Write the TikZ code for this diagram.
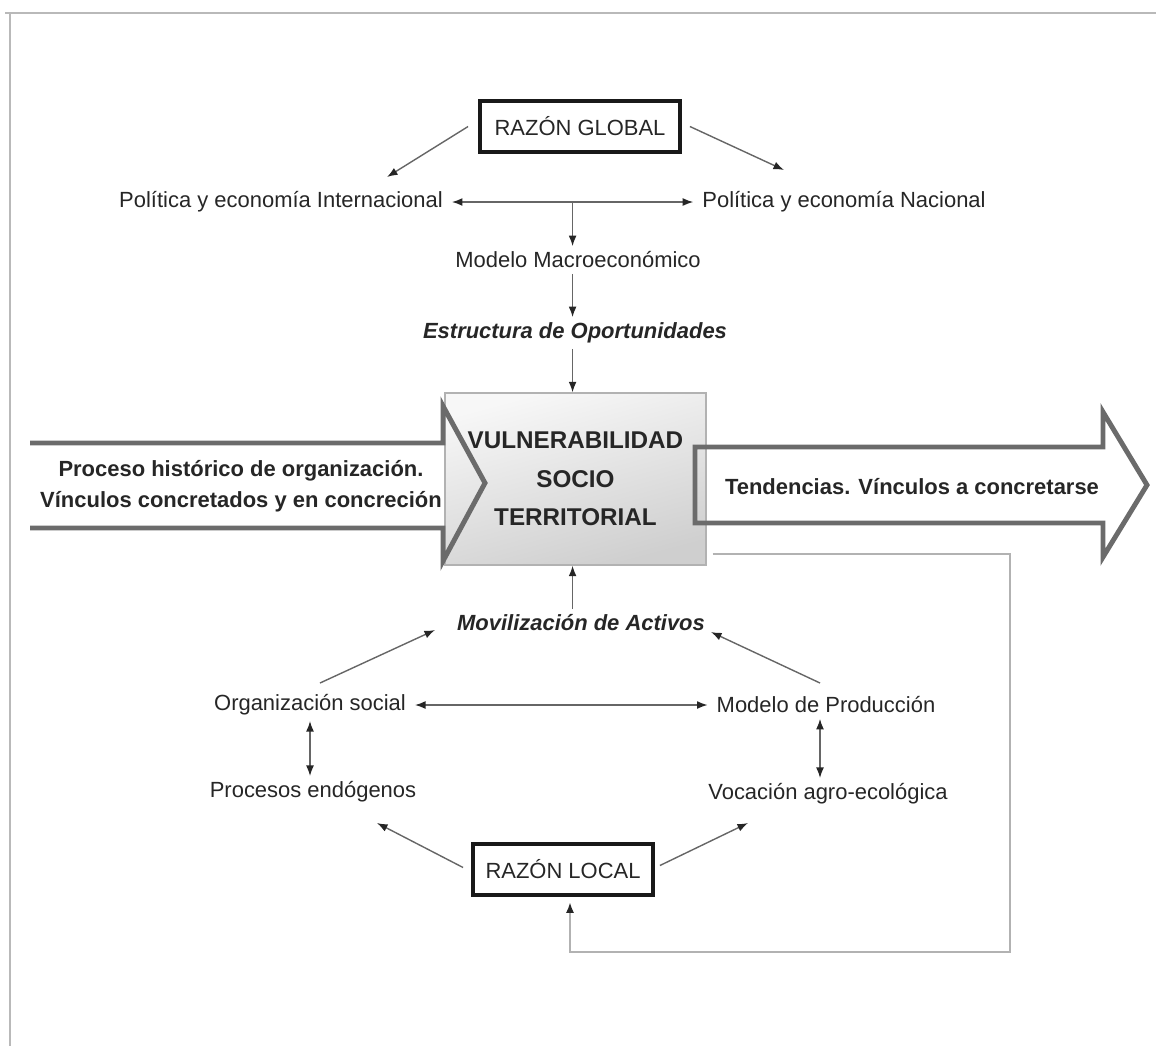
\documentclass[tikz,border=0pt]{standalone}
\usepackage{fontspec}
\setmainfont{Liberation Sans}
\usetikzlibrary{calc,arrows.meta}
\tikzset{
	lbl/.style={font=\fontsize{12.5}{15}\selectfont, text=black!85, inner sep=3pt},
	lblb/.style={lbl, font=\fontsize{12.5}{17.6}\selectfont\bfseries},
	lbli/.style={lbl, font=\fontsize{12.5}{15}\selectfont\bfseries\itshape},
	razon/.style={lbl, draw=black!90, line width=2.2pt, minimum height=1.02cm},
	vulnbox/.style={draw=gray!60, line width=0.8pt, shading=axis, top color=gray!6, bottom color=gray!38, shading angle=15,
		minimum width=5.22cm, minimum height=3.44cm, align=center, text=black!85,
		font=\fontsize{13.8}{22}\selectfont\bfseries},
	conn/.style={draw=black!60, line width=0.8pt},
	bigarrow/.style={draw=black!58, line width=2.8pt, line join=miter},
	fb/.style={draw=gray!60, line width=1pt},
	frame/.style={draw=gray!55, line width=1.1pt}
}
\begin{document}
\begin{tikzpicture}[x=0.02cm,y=-0.02cm,>={Latex[length=6pt,width=4.5pt,color=black!85]}]
	\useasboundingbox (0,0) rectangle (1156,1046);
	%frame
	\draw[frame] (5,13)--(1156,13);
	\draw[frame] (10,13)--(10,1046);

	%central box
	\node[vulnbox] (vuln) at (575.5,479) {VULNERABILIDAD\\SOCIO\\TERRITORIAL};

	%big arrows
	\draw[bigarrow] (30,443)--(443,443)--(443,406)--(485,483)--(443,561)--(443,528)--(30,528);
	\draw[bigarrow] (695,523)--(695,447)--(1103,447)--(1103,412)--(1147,485)--(1103,557)--(1103,523)--cycle;
	\node[lblb,align=center] (proceso) at (241,486) {Proceso histórico de organización.\\Vínculos concretados y en concreción};
	\node[lblb] (tend) at (912,487) {Tendencias. Vínculos a concretarse};

	%upper labels
	\node[razon,minimum width=4cm] (rglobal) at (580,126.5) {RAZÓN GLOBAL};
	\node[lbl] (pinter) at (281,202) {Política y economía Internacional};
	\node[lbl] (pnac) at (844,202) {Política y economía Nacional};
	\node[lbl] (macro) at (578,260) {Modelo Macroeconómico};
	\node[lbli] (estruct) at (575,333) {Estructura de Oportunidades};
	\coordinate (mid) at ($(pinter.east)!0.5!(pnac.west)$);
	%
	\draw[conn,->] ($(rglobal.west)+(-10,0)$)--($(pinter)+(106,-25)$);
	\draw[conn,->] ($(rglobal.east)+(8,0)$)--($(pnac)+(-60,-32)$);
	\draw[conn,<->,shorten <=2pt,shorten >=2pt] (pinter.east)--(pnac.west);
	\draw[conn,->] (mid)--(mid |- macro.north);
	\draw[conn,->] (mid |- macro.south)--(mid |- estruct.north);
	\draw[conn,->] (mid |- estruct.south)--(mid |- vuln.north);

	%lower labels
	\node[lbli] (movil) at (581,623) {Movilización de Activos};
	\node[lbl] (orgsoc) at (310,705) {Organización social};
	\node[lbl] (modprod) at (826,705) {Modelo de Producción};
	\node[lbl] (procend) at (313,792) {Procesos endógenos};
	\node[lbl] (vocagro) at (828,794) {Vocación agro-ecológica};
	\node[razon,minimum width=3.6cm] (rlocal) at (563,869.5) {RAZÓN LOCAL};
	\coordinate (mp) at ($(modprod.south)+(-6,0)$);
	%
	\draw[conn,->] (mid |- movil.north)--(mid |- vuln.south);
	\draw[conn,->] ($(orgsoc)+(10,-22)$)--($(movil)+(-146,7)$);
	\draw[conn,->] ($(modprod)+(-6,-22)$)--($(movil)+(130,9)$);
	\draw[conn,<->,shorten <=2pt,shorten >=2pt] (orgsoc.east)--(modprod.west);
	\draw[conn,<->] (orgsoc.south)--(orgsoc.south |- procend.north);
	\draw[conn,<->] (mp)--(mp |- vocagro.north);
	\draw[conn,->] ($(rlocal.west)+(-8,-2)$)--($(procend)+(64,31)$);
	\draw[conn,->] ($(rlocal.east)+(5,-4)$)--($(vocagro)+(-80,29)$);

	%feedback loop
	\draw[fb,->,shorten >=3pt] ($(vuln.south east)+(6,-12)$) -| (1010,952) -| ($(rlocal.south)+(7,0)$);
\end{tikzpicture}
\end{document}
